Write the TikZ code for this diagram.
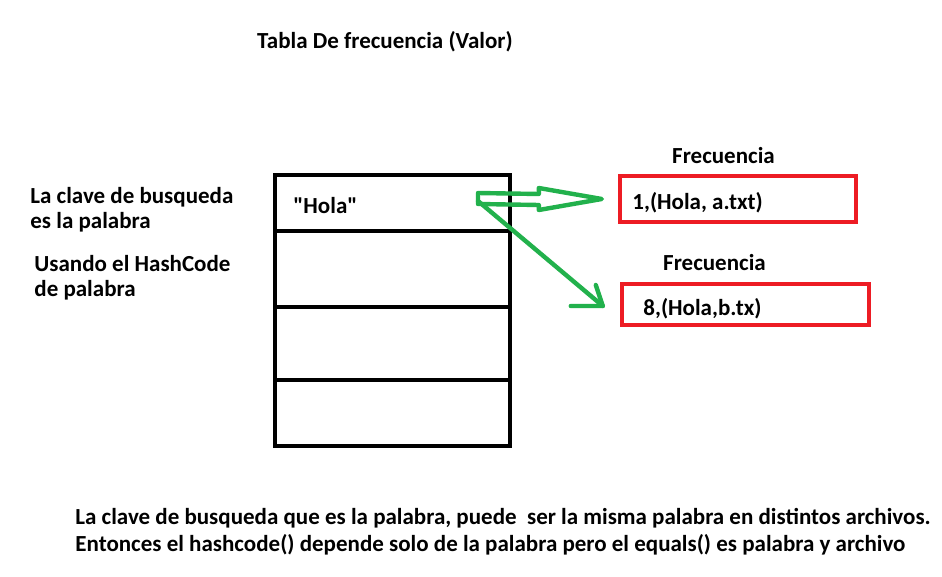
\documentclass[tikz,border=0pt]{standalone}
\usepackage{fontspec}
\setmainfont{Carlito}
\usetikzlibrary{calc,positioning}

\definecolor{paintred}{RGB}{237,28,36}
\definecolor{paintgreen}{RGB}{34,177,76}

\begin{document}
\begin{tikzpicture}[x=0.5pt,y=-0.5pt,inner sep=0pt,
  txt/.style={anchor=west,font=\fontsize{11.5}{13}\selectfont\bfseries},
  valbox/.style={draw=paintred,line width=2.2pt},
  celda/.style={draw=black,line width=2.2pt},
  flecha/.style={draw=paintgreen,line width=2.2pt,line join=round,line cap=round}]
\useasboundingbox[fill=white] (0,0) rectangle (942,577);

\coordinate (H) at (478,199);
\coordinate (T1) at (275,175);
\coordinate (T2) at (510,231);
\coordinate (T3) at (510,307);
\coordinate (T4) at (510,380);
\coordinate (T5) at (510,446);

% tabla
\draw[celda] (T1) rectangle (T5);
\draw[celda] (T1|-T2)--(T2) (T1|-T3)--(T3) (T1|-T4)--(T4);

\node (titulo) at (385,42)[txt,anchor=center]{Tabla De frecuencia (Valor)};
\node (hola) at (293,206)[txt]{\textquotedbl Hola\textquotedbl};
\node (clave1) at (30,197)[txt]{La clave de busqueda};
\node (clave2) at (30,222)[txt]{es la palabra};
\node (hash1) at (34,264)[txt]{Usando el HashCode};
\node (hash2) at (34,290)[txt]{de palabra};

% valores
\node (v1) at (738,199)[valbox,minimum width=118pt,minimum height=23pt]{};
\node (v2) at (745.5,304.5)[valbox,minimum width=123.5pt,minimum height=20.5pt]{};
\node (f1) at (723.5,156)[txt,anchor=center]{Frecuencia};
\node (f2) at (714.5,263)[txt,anchor=center]{Frecuencia};
\node (t1) at (632,203)[txt]{1,(Hola, a.txt)};
\node (t2) at (643,309)[txt]{8,(Hola,b.tx)};

% flechas
\coordinate (P1) at ([xshift=-8pt]v1.west);
\coordinate (P2) at ([xshift=-8.5pt,yshift=-0.75pt]v2.west);
\draw[flecha] ($(H)+(0,-6)$)--($(P1)+(-63,-5)$)--($(P1)+(-63,-11)$)--(P1)
  --($(P1)+(-63,11)$)--($(P1)+(-63,6)$)--($(H)+(0,5)$)--cycle;
\draw[flecha] ($(H)+(0,2)$)--(P2);
\draw[flecha] ($(P2)+(-7,-21)$)--(P2)--($(P2)+(-32,0)$);

\node (nota1) at (75,518)[txt]{La clave de busqueda que es la palabra, puede\ \ ser la misma palabra en distintos archivos.};
\node (nota2) at (75,545)[txt]{Entonces el hashcode() depende solo de la palabra pero el equals() es palabra y archivo};

\end{tikzpicture}
\end{document}
